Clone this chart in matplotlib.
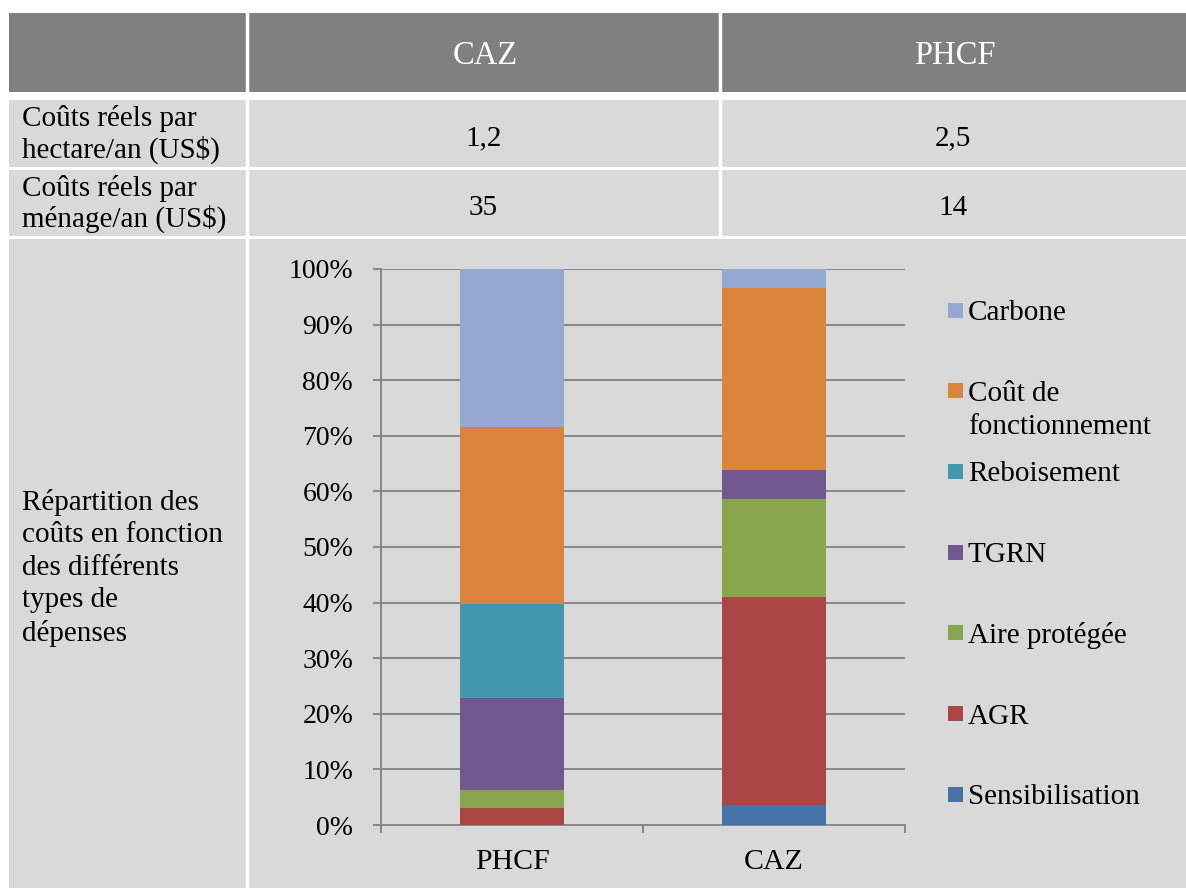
import numpy as np
import matplotlib
matplotlib.use("Agg")
import matplotlib.pyplot as plt
from matplotlib.patches import Rectangle

plt.rcParams['font.family'] = ['Liberation Serif', 'DejaVu Serif']

# table content
col_headers = ["CAZ", "PHCF"]
row_labels = ["Coûts réels par\nhectare/an (US$)", "Coûts réels par\nménage/an (US$)"]
cost_per_ha = ["1,2", "2,5"]
cost_per_household = ["35", "14"]
chart_row_label = "Répartition des\ncoûts en fonction\ndes différents\ntypes de\ndépenses"

# stacked bar data (% of costs)
sites = ["PHCF", "CAZ"]
categories = ["Sensibilisation", "AGR", "Aire protégée", "TGRN",
              "Reboisement", "Coût de\nfonctionnement", "Carbone"]
sensibilisation = [0.0, 3.6]
agr = [3.1, 37.4]
aire_protegee = [3.2, 17.7]
tgrn = [16.6, 5.2]
reboisement = [16.8, 0.0]
cout_fonctionnement = [31.8, 32.7]
carbone = [28.5, 3.4]
colors = ["#4572A7", "#AA4643", "#89A54E", "#71588F",
          "#4198AF", "#DB843D", "#94A9D1"]

W, H = 1186, 888
fig = plt.figure(figsize=(W / 100, H / 100), dpi=100)
fig.patch.set_facecolor("white")

# background axes in pixel coords for the table
bg = fig.add_axes([0, 0, 1, 1])
bg.set_xlim(0, W)
bg.set_ylim(H, 0)
bg.axis("off")

x0, x1, x2, x3 = 9, 247, 720, W
rows = [(13, 92), (100, 167), (170, 236), (239, H)]
head_col, cell_col = "#808080", "#D9D9D9"
for i, (top, bot) in enumerate(rows):
    fc = head_col if i == 0 else cell_col
    bg.add_patch(Rectangle((x0, top), x3 - x0, bot - top, fc=fc, ec="none"))
# white vertical separators
for i, (top, bot) in enumerate(rows):
    bg.plot([x1, x1], [top, bot], color="white", lw=2.5)
    if i < 3:
        bg.plot([x2, x2], [top, bot], color="white", lw=2.5)

cx = [(x1 + x2) / 2, (x2 + x3) / 2]
fs = 21
for j, h in enumerate(col_headers):
    bg.text(cx[j] + 2, (rows[0][0] + rows[0][1]) / 2, h, color="white",
            fontsize=23.5, ha="center", va="center_baseline")
for i, (lab, vals) in enumerate(zip(row_labels, [cost_per_ha, cost_per_household])):
    top, bot = rows[i + 1]
    yc = (top + bot) / 2
    bg.text(22, yc + 1, lab, fontsize=fs, ha="left", va="center", linespacing=1.16)
    for j, v in enumerate(vals):
        bg.text(cx[j], yc + 2, v, fontsize=fs, ha="center", va="center_baseline")
bg.text(22, 568, chart_row_label, fontsize=fs, ha="left", va="center",
        linespacing=1.33)

# chart axes
ax = fig.add_axes([381 / W, (H - 825) / H, (905 - 381) / W, (825 - 269) / H])
ax.set_facecolor("none")
series = [sensibilisation, agr, aire_protegee, tgrn, reboisement,
          cout_fonctionnement, carbone]
x = np.arange(len(sites))
bottom = np.zeros(len(sites))
for vals, col, lab in zip(series, colors, categories):
    ax.bar(x, vals, 0.4, bottom=bottom, color=col, label=lab, zorder=3)
    bottom += np.array(vals)

grid_col = "#878787"
ax.set_xlim(-0.5, 1.5)
ax.set_ylim(0, 100)
ax.set_yticks(np.arange(0, 101, 10))
ax.set_yticklabels([f"{v}%" for v in range(0, 101, 10)])
ax.yaxis.grid(True, color=grid_col, lw=1.4)
ax.set_axisbelow(True)
ax.set_xticks(x)
ax.set_xticklabels(sites)
ax.set_xticks([-0.5, 0.5, 1.5], minor=True)
ax.tick_params(axis="x", which="major", length=0, pad=17, labelsize=21.5)
ax.tick_params(axis="x", which="minor", length=6, width=1.4, color=grid_col)
ax.tick_params(axis="y", length=6, width=1.4, color=grid_col, pad=14, labelsize=20)
for s in ["top", "right"]:
    ax.spines[s].set_visible(False)
for s in ["left", "bottom"]:
    ax.spines[s].set_color(grid_col)
    ax.spines[s].set_linewidth(1.4)

# legend, drawn top to bottom in reverse series order
leg_y = 310
for lab, col in zip(categories[::-1], colors[::-1]):
    bg.add_patch(Rectangle((948, leg_y - 7.5), 15, 15, fc=col, ec="none"))
    for k, line in enumerate(lab.split("\n")):
        bg.text(968, leg_y + k * 33, line, fontsize=21, ha="left",
                va="center_baseline")
    leg_y += 80.7

fig.savefig("out.png", dpi=100)
